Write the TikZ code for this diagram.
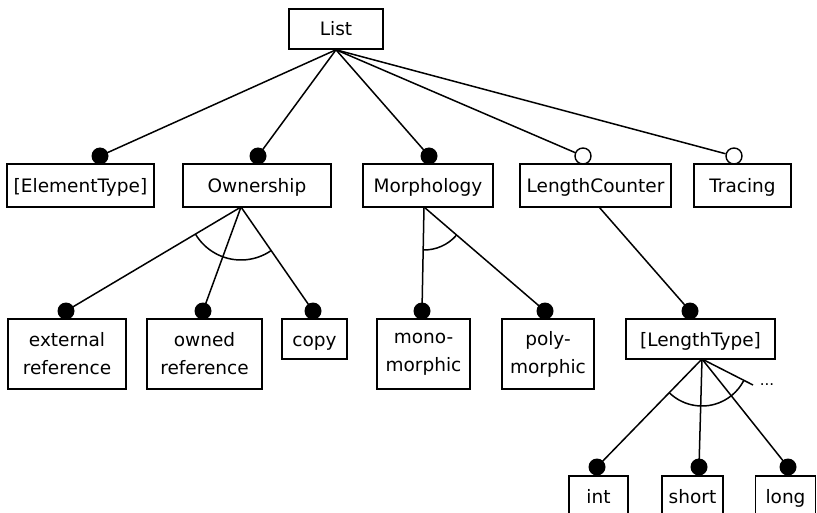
\documentclass[tikz,border=0pt]{standalone}
\usepackage{fontspec}
\setmainfont{DejaVu Sans}
\usetikzlibrary{calc}
\begin{document}
\begin{tikzpicture}[x=1pt,y=1pt,
  feature/.style={draw,line width=1.6pt,inner sep=0pt,align=center,
    text height=14pt,text depth=0pt,
    font=\fontsize{18.5}{28}\selectfont},
  twoline/.style={text height=,text depth=},
  link/.style={line width=1.5pt},
  mand/.style={circle,fill=black,inner sep=0pt,minimum size=17pt},
  opt/.style={circle,draw,fill=white,line width=1.4pt,inner sep=0pt,minimum size=16pt},
  grp/.style={line width=1.5pt}]
\useasboundingbox (0,0) rectangle (817,-513);
\fill[white] (0,0) rectangle (817,-513);
\clip (0,0) rectangle (817,-513);

% feature boxes
\node[feature,minimum width=94pt,minimum height=40pt] (list) at (336,-29) {List};

\node[feature,minimum width=147pt,minimum height=43pt] (elem)  at (80.5,-185.5) {[ElementType]};
\node[feature,minimum width=148pt,minimum height=43pt] (own)   at (257,-185.5)  {Ownership};
\node[feature,minimum width=130pt,minimum height=43pt] (morph) at (428,-185.5)  {Morphology};
\node[feature,minimum width=151pt,minimum height=43pt] (len)   at (595.5,-185.5) {LengthCounter};
\node[feature,minimum width=97pt,minimum height=43pt]  (trac)  at (742.5,-185.5) {Tracing};

\node[feature,twoline,minimum width=118pt,minimum height=70pt] (ext)   at (67,-354)    {external\\reference};
\node[feature,twoline,minimum width=115pt,minimum height=70pt] (owned) at (204.5,-354) {owned\\reference};
\node[feature,minimum width=65pt,minimum height=40pt]  (copy)  at (314.5,-339) {copy};
\node[feature,twoline,minimum width=93pt,minimum height=70pt]  (mono)  at (423.5,-354) {mono-\\morphic};
\node[feature,twoline,minimum width=92pt,minimum height=70pt]  (poly)  at (548,-354)   {poly-\\morphic};
\node[feature,minimum width=149pt,minimum height=40pt] (ltype) at (700.5,-339) {[LengthType]};

\node[feature,minimum width=59pt,minimum height=40pt] (int)   at (598.5,-496) {int};
\node[feature,minimum width=61pt,minimum height=40pt] (short) at (692.5,-496) {short};
\node[feature,minimum width=60pt,minimum height=40pt] (long)  at (785.5,-496) {long};

% mandatory / optional markers
\node[mand] (m-elem)  at (100,-156) {};
\node[mand] (m-own)   at (258,-156) {};
\node[mand] (m-morph) at (429,-156) {};
\node[opt]  (o-len)   at (583,-156) {};
\node[opt]  (o-trac)  at (734,-156) {};

\node[mand] (m-ext)   at (66,-311)  {};
\node[mand] (m-owned) at (203,-311) {};
\node[mand] (m-copy)  at (313,-311) {};
\node[mand] (m-mono)  at (422,-311) {};
\node[mand] (m-poly)  at (545,-311) {};
\node[mand] (m-ltype) at (690,-311) {};

\node[mand] (m-int)   at (597,-467) {};
\node[mand] (m-short) at (699,-467) {};
\node[mand] (m-long)  at (788,-467) {};

% branching points under the parents
\coordinate (own-root)   at (241,-207);
\coordinate (morph-root) at (424,-207);
\coordinate (len-root)   at (599,-207);
\coordinate (lt-root)    at (702,-359);
\coordinate (more-end)   at (753,-385);
\node[font=\fontsize{15}{16}\selectfont,inner sep=0pt] (more) at (767,-385) {...};

% connectors
\draw[link] (list.south) -- (m-elem.center);
\draw[link] (list.south) -- (m-own.center);
\draw[link] (list.south) -- (m-morph.center);
\draw[link] (list.south) -- (o-len);
\draw[link] (list.south) -- (o-trac);

\draw[link] (own-root) -- (m-ext.center);
\draw[link] (own-root) -- (m-owned.center);
\draw[link] (own-root) -- (m-copy.center);

\draw[link] (morph-root) -- (m-mono.center);
\draw[link] (morph-root) -- (m-poly.center);

\draw[link] (len-root) -- (m-ltype.center);

\draw[link] (lt-root) -- (m-int.center);
\draw[link] (lt-root) -- (m-short.center);
\draw[link] (lt-root) -- (m-long.center);
\draw[link] (lt-root) -- (more-end);

% alternative-group arcs
\draw[grp] let \p1=($(m-ext)-(own-root)$), \p2=($(m-copy)-(own-root)$),
  \n1={atan2(\y1,\x1)}, \n2={atan2(\y2,\x2)} in
  ($(own-root)+(\n1:53)$) arc[start angle=\n1, end angle=\n2, radius=53];
\draw[grp] let \p1=($(m-mono)-(morph-root)$), \p2=($(m-poly)-(morph-root)$),
  \n1={atan2(\y1,\x1)}, \n2={atan2(\y2,\x2)} in
  ($(morph-root)+(\n1:43)$) arc[start angle=\n1, end angle=\n2, radius=43];
\draw[grp] let \p1=($(m-int)-(lt-root)$), \p2=($(more-end)-(lt-root)$),
  \n1={atan2(\y1,\x1)}, \n2={atan2(\y2,\x2)} in
  ($(lt-root)+(\n1:47)$) arc[start angle=\n1, end angle=\n2, radius=47];
\end{tikzpicture}
\end{document}
